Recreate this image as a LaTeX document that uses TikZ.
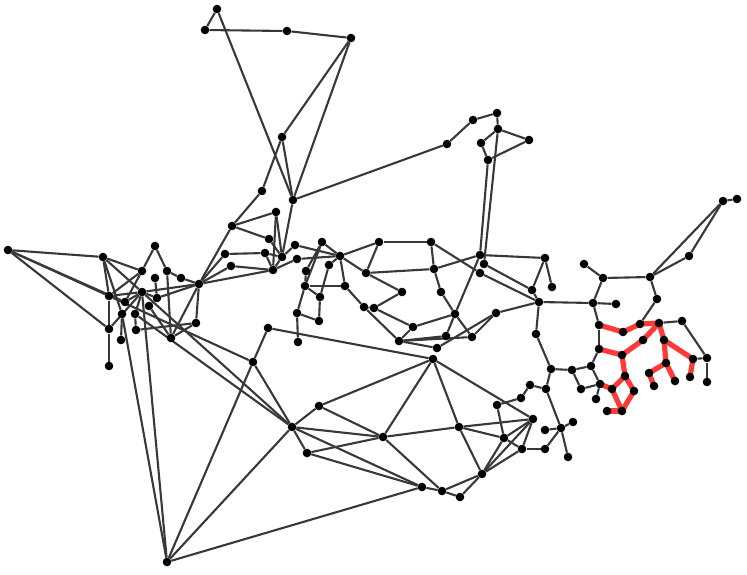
\documentclass[tikz,border=0pt]{standalone}
\pgfdeclarelayer{bg}
\pgfsetlayers{bg,main}
\begin{document}
\begin{tikzpicture}[x=1pt,y=-1pt,
  dot/.style={circle,fill=black,inner sep=0pt,minimum size=8.6pt},
  edge/.style={draw=black!78,line width=2.1pt},
  redge/.style={draw=red!78!white,line width=5.2pt}]
\useasboundingbox (0,0) rectangle (747,574);
\foreach \n/\x/\y in {
A1/217/9,A2/205/30,A3/287/31,A4/351/38,A5/282/137,A6/262/191,A7/293/200,A8/276/212,
B1/232/226,B2/269/239,B3/295/245,B4/322/242,B5/225/254,B6/265/253,B7/282/257,B8/297/259,B9/340/256,B10/231/266,B11/273/270,B12/329/265,B13/306/271,B14/199/284,B15/181/278,B16/305/286,B17/320/297,
C1/379/242,C2/431/242,C3/366/273,C4/434/269,C5/345/286,C6/402/292,C7/441/292,C8/364/307,C9/374/308,C10/297/313,C11/319/321,C12/455/314,C13/413/327,C14/298/342,C15/446/336,C16/399/341,C17/437/348,
D1/447/144,D2/473/120,D3/497/113,D4/498/129,D5/481/143,D6/529/140,D7/488/160,D8/480/255,D9/484/264,D10/480/273,D11/545/258,D12/552/287,D13/532/290,D14/539/302,D15/496/313,
E1/723/201,E2/737/199,E3/689/256,E4/650/277,E5/603/278,E6/584/264,E7/657/299,E8/593/303,E9/616/304,
F1/599/325,F2/623/332,F3/640/324,F4/659/323,F5/682/321,F6/536/334,F7/643/340,F8/664/340,F9/599/349,F10/622/355,F11/666/363,F12/693/359,F13/707/358,F14/551/369,F15/572/370,F16/591/366,F17/625/376,F18/649/373,F19/530/385,F20/546/389,F21/600/384,F22/581/389,F23/612/389,F24/634/391,F25/675/381,F26/654/386,F27/690/377,F28/707/382,F29/521/398,F30/596/399,F31/497/405,F32/607/411,F33/622/411,F34/533/419,
J1/504/438,J2/522/449,J3/545/449,J4/545/430,J5/561/428,J6/573/422,J7/568/457,
G1/8/250,G2/103/257,G3/155/246,G4/142/271,G5/167/271,G7/155/278,G9/142/292,G10/109/296,G11/157/298,G12/125/302,G13/149/306,G14/122/314,G15/135/314,G16/196/323,G17/109/329,G18/136/330,G19/121/340,G20/171/338,G21/109/366,
H1/268/328,H2/253/362,H3/472/337,H4/433/359,H5/319/406,H6/292/427,H7/383/437,H8/459/427,H9/307/453,H10/482/474,H11/422/487,H12/442/491,H13/460/497,I/167/562}
  \node[dot] (\n) at (\x,\y) {};
\begin{pgfonlayer}{bg}
\foreach \a/\b in {
A1/A2,A2/A3,A3/A4,A1/A7,A4/A5,A4/A7,A5/A7,A5/A6,A7/D1,A6/B1,
A7/B7,A8/B7,A8/B11,A8/B1,B1/B2,B1/B14,B2/B7,B3/B7,B3/B9,B5/B6,B5/B14,B6/B11,B6/B7,B7/B11,B8/B9,B8/B11,B10/B11,B10/B14,B11/B14,B14/B15,
B4/B9,B4/B13,B4/B16,B12/B9,B12/B17,B13/B16,B16/B17,B16/C5,B9/C5,B9/C1,B9/C3,B16/C10,
C1/C2,C1/C3,C3/C4,C2/C4,C3/C6,C6/C9,C8/C9,C5/C8,C8/C16,C9/C13,C13/C16,C13/C12,C4/C7,C7/C12,C12/C15,C12/H3,C16/C15,C16/C17,C16/H3,C17/D15,
C10/C11,C11/B17,C10/C14,
D1/D2,D2/D3,D3/D4,D4/D5,D5/D7,D4/D6,D6/D7,D7/D8,D4/D9,D8/D11,D8/C4,D8/C12,D9/D13,C2/D10,D10/D14,D11/D12,D11/D13,D13/D14,D14/D15,D14/F6,D14/E8,D15/H3,
E1/E2,E1/E3,E1/E4,E3/E4,E4/E5,E4/E7,E5/E6,E5/E8,E7/F3,E8/E9,E8/F1,
F4/F5,F5/F13,F12/F13,F13/F28,F1/F9,F9/F16,F16/F15,F15/F14,F14/F6,F15/F22,F22/F21,F16/F21,F21/F30,F14/F20,F20/F19,F19/F29,F29/F31,F31/J1,F20/J5,
J1/J2,J1/F34,J1/H8,J1/H10,J2/F34,J2/J3,J2/H10,J3/J5,J4/J5,J5/J6,J5/J7,F34/H8,F34/H10,F34/H4,
H8/H10,H8/H7,H4/H8,H1/H4,H1/H2,H2/H6,H2/I,H2/G10,H5/H4,H5/H6,H5/H7,H6/H7,H6/H9,H6/H11,H6/I,H7/H9,H7/H4,H7/H12,H9/H11,H11/H12,H11/I,H12/H10,H12/H13,H13/H10,
G1/G2,G1/G10,G1/G12,G1/G17,G2/G4,G2/G10,G2/G9,G2/G14,G3/G4,G3/G5,G4/G10,G4/G12,G5/B15,G5/G20,G7/G11,
B14/G11,B14/G16,B14/G20,B14/G9,G9/G10,G9/G11,G9/G12,G9/G15,G9/G17,G9/I,G9/H6,G10/G17,G17/G21,G11/G13,G13/G20,G14/G19,G14/I,G15/G18,G15/H6,G16/G18,G16/G20}
  \draw[edge] (\a) -- (\b);
\foreach \a/\b in {
F1/F2,F2/F3,F3/F4,F4/F7,F7/F10,F10/F9,F10/F17,F17/F24,F17/F23,F21/F23,F23/F33,F24/F33,F32/F33,F4/F8,F8/F11,F8/F12,F11/F18,F18/F26,F11/F25,F12/F27}
  \draw[redge] (\a.center) -- (\b.center);
\end{pgfonlayer}
\end{tikzpicture}
\end{document}
